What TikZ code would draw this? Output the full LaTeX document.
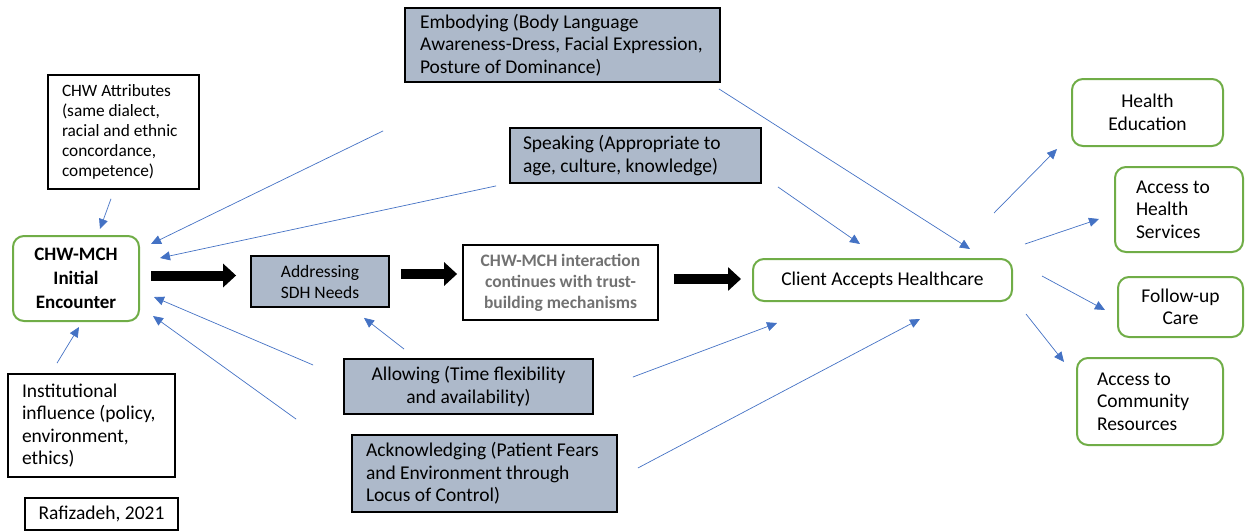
\documentclass[tikz,border=0pt]{standalone}
\usepackage{fontspec}
\setmainfont{Carlito}
\usetikzlibrary{arrows.meta,calc}

\definecolor{boxfill}{HTML}{ADB9CA}
\definecolor{okgreen}{HTML}{70AD47}
\definecolor{linkblue}{HTML}{4472C4}
\definecolor{softgray}{HTML}{727272}

\newcommand\fsz[2]{\fontsize{#1}{#2}\selectfont}

\tikzset{
  gbox/.style={draw=black, line width=1.8pt, fill=boxfill, inner sep=0pt},
  wbox/.style={draw=black, line width=1.5pt, fill=white, inner sep=0pt},
  rbox/.style={draw=okgreen, line width=2pt, rounded corners=11pt, fill=white, inner sep=0pt},
  link/.style={draw=linkblue, line width=0.7pt, -{Triangle[length=10pt,width=9pt]}, linkblue},
  bigarrow/.style={draw=black, line width=10pt, -{Triangle[length=13pt,width=23pt]}},
  body/.style={font=\fsz{19.5}{22.5}},
}

\begin{document}
\begin{tikzpicture}[x=1pt,y=-1pt]
\useasboundingbox (0,0) rectangle (1245,531);

% --- grey factor boxes ---
\node[gbox, body, minimum width=315pt, minimum height=74pt, text width=285pt,
      inner xsep=15pt, align=flush left] (emb) at (562.5,45)
  {Embodying (Body Language\\Awareness-Dress, Facial Expression,\\Posture of Dominance)};
\node[gbox, body, minimum width=251pt, minimum height=55pt, text width=225pt,
      inner xsep=13pt, align=flush left] (spk) at (635.5,155.5)
  {Speaking (Appropriate to\\age, culture, knowledge)};
\node[gbox, font=\fsz{17.5}{21}, minimum width=138pt, minimum height=51pt, align=flush center] (sdh) at (320,281.5)
  {Addressing\\SDH Needs};
\node[gbox, body, minimum width=249pt, minimum height=55pt, align=flush center] (alw) at (468.5,386.5)
  {Allowing (Time flexibility\\and availability)};
\node[gbox, body, minimum width=265pt, minimum height=77pt, text width=237pt,
      inner xsep=14pt, align=flush left] (ack) at (484.5,473.5)
  {Acknowledging (Patient Fears\\and Environment through\\Locus of Control)};

% --- white boxes ---
\node[wbox, font=\fsz{17.3}{20}, minimum width=151pt, minimum height=114pt, text width=123pt,
      inner xsep=14pt, align=flush left] (att) at (123.5,132)
  {CHW Attributes\\(same dialect,\\racial and ethnic\\concordance,\\competence)};
\node[wbox, line width=1.8pt, body, minimum width=167pt, minimum height=103pt, text width=139pt,
      inner xsep=14pt, align=flush left] (inst) at (91.5,425.5)
  {Institutional\\influence (policy,\\environment,\\ethics)};
\node[wbox, body, minimum width=153pt, minimum height=32pt, align=flush center] (ref) at (101.5,514)
  {Rafizadeh, 2021};
\node[wbox, line width=1.8pt, font=\fsz{17.5}{21}\bfseries, text=softgray, minimum width=195pt,
      minimum height=75pt, align=flush center] (int) at (560.5,282.5)
  {CHW-MCH interaction\\continues with trust-\\building mechanisms};

% --- green rounded boxes ---
\node[rbox, font=\fsz{19}{24}\bfseries, minimum width=126pt, minimum height=85pt, align=flush center] (enc) at (76,278.5)
  {CHW-MCH\\Initial\\Encounter};
\node[rbox, body, minimum width=259pt, minimum height=42pt, align=flush center] (cli) at (882.5,280)
  {Client Accepts Healthcare};
\node[rbox, body, minimum width=151pt, minimum height=67pt, align=flush center] (he) at (1147.5,112.5)
  {Health\\Education};
\node[rbox, body, minimum width=128pt, minimum height=85pt, text width=86pt,
      inner xsep=21pt, align=flush left] (ahs) at (1179,209.5)
  {Access to\\Health\\Services};
\node[rbox, body, minimum width=125pt, minimum height=60pt, align=flush center] (fu) at (1180.5,307)
  {Follow-up\\Care};
\node[rbox, body, minimum width=146pt, minimum height=87pt, text width=106pt,
      inner xsep=20pt, align=flush left] (com) at (1150,401.5)
  {Access to\\Community\\Resources};

% --- main flow ---
\draw[bigarrow] ($(enc.east)+(11,-3)$) -- ($(sdh.west)+(-14,-6)$);
\draw[bigarrow] ($(sdh.east)+(11,-7.5)$) -- ($(int.west)+(-5,-8.5)$);
\draw[bigarrow] ($(int.east)+(15,-3.5)$) -- ($(cli.west)+(-11,-1)$);

% --- influences on the initial encounter ---
\draw[link] ($(att.south)+(-12.5,9)$) -- ($(enc.north)+(24,-6)$);
\draw[link] ($(inst.north)+(-34.5,-10)$) -- ($(enc.south)+(3,5)$);
\draw[link] ($(emb.south west)+(-21,48)$) -- ($(enc.east)+(11,-34.5)$);
\draw[link] ($(spk.south west)+(-13,2)$) -- ($(enc.east)+(20,-20.5)$);
\draw[link] ($(alw.west)+(-30,-21.5)$) -- ($(enc.east)+(14,18.5)$);
\draw[link] ($(ack.north west)+(-55,-15)$) -- ($(enc.east)+(13,37.5)$);
\draw[link] ($(alw.north west)+(61,-9)$) -- ($(sdh.south)+(44,10)$);

% --- mechanisms leading to acceptance ---
\draw[link] ($(emb.south east)+(-2,6)$) -- ($(cli.north)+(87.5,-9)$);
\draw[link] ($(spk.south east)+(16,3)$) -- ($(cli.north)+(-22.5,-14)$);
\draw[link] ($(alw.east)+(39,-9.5)$) -- ($(cli.south)+(-105.5,21)$);
\draw[link] ($(ack.east)+(20,-5.5)$) -- ($(cli.south)+(37.5,17)$);

% --- outcomes ---
\draw[link] ($(cli.north east)+(-19,-45)$) -- ($(he.south west)+(-14,2)$);
\draw[link] ($(cli.north east)+(12,-14)$) -- ($(ahs.west)+(-15,9.5)$);
\draw[link] ($(cli.east)+(29,-4)$) -- ($(fu.west)+(-12,3)$);
\draw[link] ($(cli.south east)+(13,12)$) -- ($(com.north west)+(-12,5)$);
\end{tikzpicture}
\end{document}
